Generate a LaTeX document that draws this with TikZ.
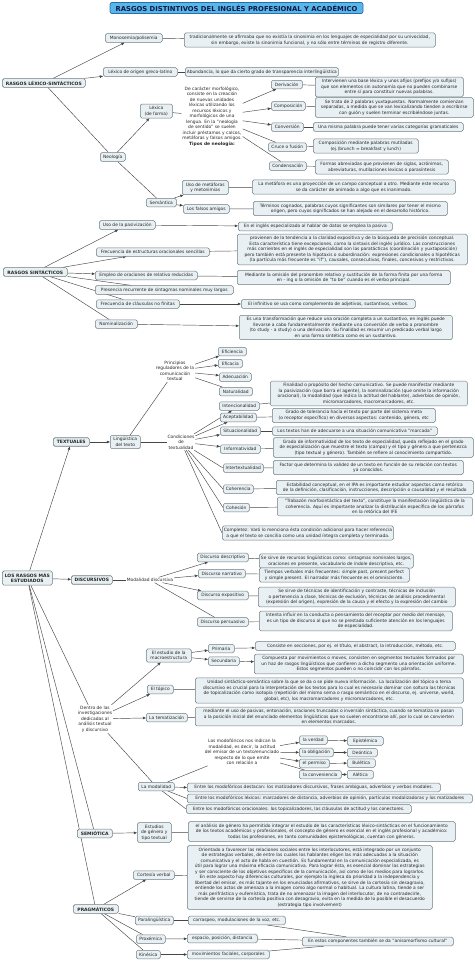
\documentclass[tikz,border=0pt]{standalone}
\usepackage{fontspec}
\setmainfont{DejaVu Sans}
\usetikzlibrary{arrows.meta,backgrounds}
\definecolor{boxfill}{RGB}{233,240,243}
\definecolor{boxdraw}{RGB}{110,125,130}
\definecolor{linecol}{RGB}{70,70,70}
\definecolor{titfill}{RGB}{88,182,232}
\definecolor{titdraw}{RGB}{40,110,170}
\definecolor{tittext}{RGB}{15,25,70}
\tikzset{
 box/.style={draw=boxdraw, fill=boxfill, rounded corners=1.6pt, line width=0.5pt, inner xsep=1.5pt, inner ysep=2.2pt, align=center, font=\fontsize{4.4}{5.5}\selectfont, minimum height=8.5pt, text=black!85},
 hbox/.style={box, font=\fontsize{4.5}{5.5}\selectfont\bfseries, line width=0.6pt},
 txt/.style={align=center, inner sep=0.8pt, font=\fontsize{4.4}{5.5}\selectfont, text=black!85},
 ln/.style={draw=linecol, line width=0.45pt},
 ar/.style={ln, -{Triangle[length=3.2pt,width=2.6pt]}},
}
\newcommand{\bx}[6][box]{\node[#1, anchor=west, minimum width=#5pt] (#2) at (#3,#4) {#6};}
\begin{document}
\begin{tikzpicture}[x=1pt,y=-1pt]
\useasboundingbox (0,0) rectangle (474,961);
% title
\node[draw=titdraw, fill=titfill, rounded corners=2pt, line width=0.7pt, minimum width=253pt, minimum height=11pt, font=\fontsize{6.8}{7}\selectfont\bfseries, text=tittext, inner sep=1pt] (tit) at (236.5,8) {RASGOS DISTINTIVOS DEL INGLÉS PROFESIONAL Y ACADÉMICO};

% ===== RASGOS LEXICO-SINTACTICOS
\bx[hbox]{rls}{2}{83}{83}{RASGOS LÉXICO-SINTÁCTICOS}
\bx{mono}{105}{38}{57}{Monosemia/polisemia}
\bx{trad}{184}{40}{251}{tradicionalmente se afirmaba que no existía la sinonimia en los lenguajes de especialidad por su univocidad,\\sin embargo, existe la sinonimia funcional, y no sólo entre términos de registro diferente.}
\bx{lexgr}{103}{72}{74}{Léxico de origen greco-latino}
\bx{abund}{185}{72}{150}{Abundancia, lo que da cierto grado de transparencia interlingüística}
\bx{neo}{100}{157}{25}{Neología}
\bx{lexica}{140}{111}{32}{Léxica\\(de forma)}
\node[txt] (decar) at (212,116.5) {De carácter morfológico,\\consiste en la creación\\de nuevas unidades\\léxicas utilizando los\\recursos léxicos y\\morfológicos de una\\lengua. En la "neología\\de sentido" se suelen\\incluir préstamos y calcos,\\metáforas y falsos amigos.\\\textbf{Tipos de neología:}};
\bx{deriv}{271}{84.5}{31}{Derivación}
\bx{interv}{315}{87}{148}{Intervienen una base léxica y unos afijos (prefijos y/o sufijos)\\que son elementos sin autonomía que no pueden combinarse\\entre sí para constituir nuevas palabras.}
\bx{compos}{271}{106}{34}{Composición}
\bx{setrata}{315}{107.5}{158}{Se trata de 2 palabras yuxtapuestas. Normalmente comienzan\\separadas, a medida que se van lexicalizando tienden a escribirse\\con guión y suelen terminar escribiéndose juntas.}
\bx{conver}{271}{127}{32}{Conversión}
\bx{unamisma}{313}{127}{150}{Una misma palabra puede tener varias categorías gramaticales}
\bx{cruce}{268}{147}{38}{Cruce o fusión}
\bx{compmed}{313}{146}{105}{Composición mediante palabras mutiladas\\(ej.)brunch = breakfast y lunch)}
\bx{conden}{269}{166}{37}{Condensación}
\bx{formas}{315}{167}{133}{Formas abreviadas que provienen de siglas, acrónimos,\\abreviaturas, mutilaciones lexicas o parasíntesis}
\bx{seman}{146}{202.5}{30}{Semántica}
\bx{usomet}{182}{187.5}{46}{Uso de metáforas\\y metonimias}
\bx{metafora}{252}{187}{203}{La metáfora es una proyección de un campo conceptual a otro. Mediante este recurso\\se da carácter de animado a algo que es inanimado.}
\bx{falsos}{183}{209}{46}{Los falsos amigos}
\bx{terminos}{253}{208.5}{194}{Términos cognados, palabras cuyos significantes son similares por tener el mismo\\origen, pero cuyos significados se han alejado en el desarrollo histórico.}

% ===== RASGOS SINTACTICOS
\bx[hbox]{rs}{3}{272}{64}{RASGOS SINTÁCTICOS}
\bx{pasiv}{99}{225}{56}{Uso de la pasivización}
\bx{inglesesp}{238}{226.5}{154}{En el inglés especializado al hablar de datos se emplea la pasiva}
\bx{frecest}{96}{252}{113}{Frecuencia de estructuras oracionales sencillas}
\bx{provienen}{237}{249.5}{230}{provienen de la tendencia a la claridad expositiva y de la búsqueda de precisión conceptual.\\Esta característica tiene excepciones, como la sintaxis del inglés jurídico. Las construcciones\\más corrientes en el inglés de especialidad son las paratácticas (coordinación y yuxtaposición)\\pero también está presente la hipotaxis o subordinación: expresiones condicionales o hipotéticas\\(la partícula más frecuente es "if"), causales, consecutivas, finales, concesivas y restrictivas.}
\bx{empleo}{95}{275.5}{102}{Empleo de oraciones de relativo reducidas}
\bx{mediante}{237}{277.5}{213}{Mediante la omisión del pronombre relativo y sustitución de la forma finita por una forma\\en - ing o la omisión de "to be" cuando es el verbo principal.}
\bx{presencia}{95}{290}{138}{Presencia recurrente de sintagmas nominales muy largos}
\bx{freccl}{96}{304}{83}{Frecuencia de cláusulas no finitas}
\bx{infin}{241}{304}{174}{El infinitivo se usa como complemento de adjetivos, sustantivos, verbos.}
\bx{nomin}{95}{324}{42}{Nominalización}
\bx{esuna}{239}{327.5}{213}{Es una transformación que reduce una oración completa a un sustantivo, en inglés puede\\llevarse a cabo fundamentalmente mediante una conversión de verbo a pronombre\\(to study - a study) o una derivación. Su finalidad es resumir un predicado verbal largo\\en una forma sintética como es un sustantivo.}

% ===== LOS RASGOS MAS ESTUDIADOS
\bx[hbox]{lre}{2}{578}{50}{LOS RASGOS MÁS\\ESTUDIADOS}
\bx[hbox]{textuales}{53}{442}{36}{TEXTUALES}
\bx{ling}{110}{442}{30}{Lingüística\\del texto}
\node[txt] (principios) at (175,371) {Principios\\reguladores de la\\comunicación\\textual};
\bx{efic}{218}{351.5}{28}{Eficiencia}
\bx{eficacia}{218}{363.5}{24}{Eficacia}
\bx{adec}{219}{377}{32}{Adecuación}
\bx{natur}{219}{391.5}{33}{Naturalidad}
\bx{intenc}{219}{406}{40}{Intencionalidad}
\bx{finalidad}{270}{393.5}{197}{Finalidad o propósito del hecho comunicativo. Se puede manifestar mediante\\la pasivización (que borra el agente), la nominalización (que omite la información\\oracional), la modalidad (que indica la actitud del hablante), adverbios de opinión,\\micromarcadores, macromarcadores, etc.}
\bx{acept}{220}{417.5}{36}{Aceptabilidad}
\bx{tolerancia}{272}{415.5}{163}{Grado de tolerancia hacia el texto por parte del sistema meta\\(o receptor específico) en diversos aspectos: contenido, género, etc}
\bx{situ}{220}{431}{40}{Situacionalidad}
\bx{lostextos}{272}{431}{165}{Los textos han de adecuarse a una situación comunicativa "marcada"}
\node[txt] (condic) at (181,442) {Condiciones\\de\\textualidad};
\bx{inform}{220}{449}{40}{Informatividad}
\bx{gradoinf}{273}{447.5}{200}{Grado de informatividad de los texto de especialidad, queda reflejado en el grado\\de especialización que muestre el texto (campo) y el tipo y género a que pertenezca\\(tipo textual y género). También se refiere al conocimiento compartido.}
\bx{intertex}{223}{468}{40}{Intertextualidad}
\bx{factor}{273}{467.5}{190}{Factor que determina la validez de un texto en función de su relación con textos\\ya conocidos.}
\bx{coher}{223}{489}{30}{Coherencia}
\bx{estab}{276}{487.5}{197}{Estabilidad conceptual, en el IPA es importante estudiar aspectos como retórica\\de la definición, clasificación, instrucciones, descripción o causalidad y el resultado}
\bx{cohes}{223}{507.5}{26}{Cohesión}
\bx{trabazon}{277}{506.5}{195}{"Trabazón morfosintáctica del texto", constituye la manifestación lingüística de la\\coherencia. Aquí es importante analizar la distribución específica de los párrafos\\en la retórica del IFE}
\bx{completez}{222}{533}{171}{Completez: Varó lo menciona ésta condición adicional para hacer referencia\\a que el texto  se concilia como una unidad íntegra completa y terminada.}

\bx[hbox]{discursivos}{71}{580}{41}{DISCURSIVOS}
\node[txt] (modal) at (150,580) {Modalidad discursiva};
\bx{ddesc}{197}{557.5}{51}{Discurso descriptivo}
\bx{sesirve}{259}{561}{154}{Se sirve de recursos lingüísticos como: sintagmas nominales largos,\\oraciones en presente, vocabulario de índole descriptiva, etc.}
\bx{dnarr}{198}{573.5}{47}{Discurso narrativo}
\bx{tiempos}{259}{575}{150}{Tiempos verbales más frecuentes: simple past, present perfect\\y simple present. El narrador más frecuente es el omnisciente.}
\bx{dexpo}{197}{595.5}{51}{Discurso expositivo}
\bx{tecnicas}{258}{597}{197}{Se sirve de técnicas de identificación y contraste, técnicas de inclusión\\o pertenencia a clase, técnicas de exclusión, técnicas de análisis procedimental\\(expresión del origen), expresión de la causa y el efecto y la expresión del cambio}
\bx{dpers}{197}{622}{51}{Discurso persuasivo}
\bx{intenta}{259}{621}{193}{Intenta influir en la conducta o pensamiento del receptor por medio del mensaje,\\es un tipo de discurso al que no se prestado suficiente atención en los lenguajes\\de especialidad.}

\node[txt] (dentro) at (95,719) {Dentro de las\\investigaciones\\dedicadas al\\análisis textual\\y discursivo};
\bx{macro}{146}{655.5}{45}{El estudio de la\\macroestructura}
\bx{prim}{208}{648.5}{26}{Primaria}
\bx{secun}{208}{661}{31}{Secundaria}
\bx{consiste}{255}{646}{200}{Consiste en secciones, por ej. el título, el abstract, la introducción, método, etc.}
\bx{compuesta}{254}{664}{209}{Compuesta por movimientos o moves, consisten en segmentos textuales formados por\\un haz de rasgos lingüísticos que confieren a dicho segmento una orientación uniforme.\\Estos segmentos pueden o no coincidir con los párrafos.}
\bx{topico}{147}{689.5}{26}{El tópico}
\bx{unidad}{195}{690.5}{268}{Unidad sintáctico-semántica sobre la que se da o se pide nueva información. La localización del tópico o tema\\discursivo es crucial para la interpretación de los textos para lo cual es necesario dominar con soltura las técnicas\\de topicalización como isotopía (repetición del mismo sema o rasgo semántico en el discurso, ej. universe, world,\\global, etc), los macromarcadores y micromarcadores, etc.}
\bx{temat}{146}{717.5}{41}{La tematización}
\bx{medtemat}{195}{716.5}{267}{mediante el uso de pasivas, entonación, oraciones truncadas o inversión sintáctica, cuando se tematiza se pasan\\a la posición inicial del enunciado elementos lingüísticos que no suelen encontrarse allí, por lo cual se convierten\\en elementos marcados.}
\node[txt] (modofor) at (242,752) {Los modofóricos nos indican la\\modalidad, es decir, la actitud\\del emisor de un texto/enunciado\\respecto de lo que emite\\con relación a};
\bx{verdad}{299}{740}{28}{la verdad}
\bx{oblig}{299}{752.5}{34}{la obligación}
\bx{permiso}{299}{763.5}{30}{el permiso}
\bx{conven}{299}{774.5}{42}{la conveniencia}
\bx{epist}{347}{741}{36}{Epistémica}
\bx{deont}{347}{752.5}{30}{Deóntica}
\bx{bulet}{347}{763}{28}{Bulética}
\bx{alet}{347}{774.5}{26}{Alética}
\bx{modalidad}{138}{786.5}{36}{La modalidad}
\bx{destacan}{187}{787.5}{253}{Entre los modofóricos destacan: los matizadores discursivos, frases ambiguas, adverbios y verbos modales.}
\bx{lexicos}{187}{798.5}{285}{Entre los modofóricos léxicos: marcadores de distancia, adverbios de opinión, partículas modalizadoras y los matizadores}
\bx{oracion}{186}{809}{225}{Entre los modofóricos oracionales: los topicalizadores, las cláusulas de actitud y los conectores.}

\bx[hbox]{semiotica}{77}{833.5}{35}{SEMIÓTICA}
\bx{estudios}{137}{832.5}{34}{Estudios\\de género y\\tipo textual}
\bx{analisis}{188}{831.5}{267}{el análisis de género ha permitido integrar el estudio de las características léxico-sintácticas en el funcionamiento\\de los textos académicos y profesionales, el concepto de género es esencial en el inglés profesional y académico:\\todas las profesiones, en tanto comunidades epistemológicas, cuentan con géneros.}

\bx[hbox]{pragm}{73}{909}{45}{PRAGMÁTICOS}
\bx{cortesia}{133}{875}{41}{Cortesía verbal}
\bx{orientado}{187}{877.5}{245}{Orientado a favorecer las relaciones sociales entre los interlocutores, está integrado por un conjunto\\de estrategias verbales, de entre las cuales los hablantes eligen las más adecuadas a la situación\\comunicativa y el acto de habla en cuestión. Es fundamental en la comunicación especializada, es\\útil para lograr una máxima eficacia comunicativa. Para lograr ésta, es esencial dominar las estrategias\\y ser consciente de los objetivos específicos de la comunicación, así como de los medios para lograrlos.\\En este aspecto hay diferencias culturales, por ejemplo la inglesa da prioridad a la independencia y\\libertad del emisor, es más tajante en los enunciados afirmativos, se sirve de la cortesía sin desagravio,\\entiende los actos de amenaza a la imagen como algo normal o habitual. La cultura latina, tiende a ser\\más perifrástica y eufemística, trata de no amenazar la imagen del interlocutor, de no contradecirle,\\tiende de servirse de la cortesía positiva con desagravio, evita en la medida de lo posible el desacuerdo\\(estrategia tipo involvement)}
\bx{paraling}{135}{920.5}{38}{Paralingüística}
\bx{carraspeo}{188}{920.5}{97}{carraspeo, modulaciones de la voz, etc.}
\bx{proxem}{136}{939}{29}{Proxémica}
\bx{espacio}{187}{938.5}{70}{espacio, posición, distancia}
\bx{kines}{136}{954.5}{24}{Kinésica}
\bx{movim}{187}{954.5}{82}{movimientos faciales, corporales}
\bx{enestos}{302}{941.5}{151}{En estos componentes también se da "anisomorfismo cultural"}

% ===== connectors
\begin{pgfonlayer}{background}
\draw[ar] (rls) -- (mono);
\draw[ar] (rls) -- (lexgr);
\draw[ln] (rls) -- (neo);
\draw[ln] (mono) -- (trad);
\draw[ln] (lexgr) -- (abund);
\draw[ar] (neo) -- (lexica);
\draw[ln] (lexica) -- (decar);
\draw[ar] (decar) -- (deriv);
\draw[ar] (decar) -- (compos);
\draw[ar] (decar) -- (conver);
\draw[ln] (decar) -- (cruce);
\draw[ln] (decar) -- (conden);
\draw[ln] (deriv) -- (interv);
\draw[ln] (compos) -- (setrata);
\draw[ln] (conver) -- (unamisma);
\draw[ln] (cruce) -- (compmed);
\draw[ln] (conden) -- (formas);
\draw[ln] (neo) -- (seman);
\draw[ar] (seman) -- (usomet);
\draw[ar] (seman) -- (falsos);
\draw[ln] (usomet) -- (metafora);
\draw[ln] (falsos) -- (terminos);

\draw[ar] (rs) -- (pasiv);
\draw[ar] (rs) -- (frecest);
\draw[ar] (rs) -- (empleo);
\draw[ln] (rs) -- (presencia);
\draw[ln] (rs) -- (freccl);
\draw[ln] (rs) -- (nomin);
\draw[ar] (pasiv) -- (inglesesp);
\draw[ln] (frecest) -- (provienen);
\draw[ln] (empleo) -- (mediante);
\draw[ar] (freccl) -- (infin);
\draw[ar] (nomin) -- (esuna);

\draw[ar] (lre) -- (textuales);
\draw[ar] (lre) -- (discursivos);
\draw[ln] (lre) -- (dentro);
\draw[ln] (lre) -- (semiotica);
\draw[ln] (lre) -- (pragm);
\draw[ar] (textuales) -- (ling);
\draw[ln] (ling) -- (principios);
\draw[ln] (ling) -- (condic);
\draw[ar] (principios) -- (efic);
\draw[ar] (principios) -- (eficacia);
\draw[ar] (principios) -- (adec);
\draw[ln] (principios) -- (natur);
\draw[ar] (condic) -- (intenc);
\draw[ar] (condic) -- (acept);
\draw[ar] (condic) -- (situ);
\draw[ar] (condic) -- (inform);
\draw[ln] (condic) -- (intertex.west);
\draw[ln] (condic) -- (coher.west);
\draw[ln] (condic) -- (cohes.west);
\draw[ln] (condic) -- (completez.west);
\draw[ln] (intenc) -- (finalidad);
\draw[ln] (acept) -- (tolerancia);
\draw[ln] (situ) -- (lostextos);
\draw[ln] (inform) -- (gradoinf);
\draw[ln] (intertex) -- (factor);
\draw[ln] (coher) -- (estab);
\draw[ln] (cohes) -- (trabazon);

\draw[ln] (discursivos) -- (modal);
\draw[ar] (modal) -- (ddesc);
\draw[ar] (modal) -- (dnarr);
\draw[ar] (modal) -- (dexpo);
\draw[ln] (modal) -- (dpers);
\draw[ln] (ddesc) -- (sesirve);
\draw[ln] (dnarr) -- (tiempos);
\draw[ln] (dexpo) -- (tecnicas);
\draw[ln] (dpers) -- (intenta);

\draw[ar] (dentro) -- (macro);
\draw[ar] (dentro) -- (topico);
\draw[ar] (dentro) -- (temat);
\draw[ln] (dentro) -- (modalidad);
\draw[ar] (macro) -- (prim);
\draw[ar] (macro) -- (secun);
\draw[ar] (prim) -- (consiste);
\draw[ar] (secun) -- (compuesta);
\draw[ln] (topico) -- (unidad);
\draw[ln] (temat) -- (medtemat);
\draw[ln] (modalidad) -- (modofor);
\draw[ar] (modofor) -- (verdad);
\draw[ar] (modofor) -- (oblig);
\draw[ar] (modofor) -- (permiso);
\draw[ln] (modofor) -- (conven);
\draw[ar] (verdad) -- (epist);
\draw[ar] (oblig) -- (deont);
\draw[ar] (permiso) -- (bulet);
\draw[ar] (conven) -- (alet);
\draw[ar] (modalidad) -- (destacan.west);
\draw[ln] (modalidad) -- (lexicos.west);
\draw[ln] (modalidad) -- (oracion.west);

\draw[ar] (semiotica) -- (estudios);
\draw[ln] (estudios) -- (analisis);

\draw[ar] (pragm) -- (cortesia);
\draw[ln] (pragm) -- (paraling);
\draw[ln] (pragm) -- (proxem);
\draw[ln] (pragm) -- (kines);
\draw[ln] (cortesia) -- (orientado);
\draw[ln] (paraling) -- (carraspeo);
\draw[ar] (proxem) -- (espacio);
\draw[ar] (kines) -- (movim);
\draw[ln] (carraspeo) -- (enestos);
\draw[ln] (espacio) -- (enestos);
\draw[ln] (movim) -- (enestos);
\end{pgfonlayer}
\end{tikzpicture}
\end{document}
